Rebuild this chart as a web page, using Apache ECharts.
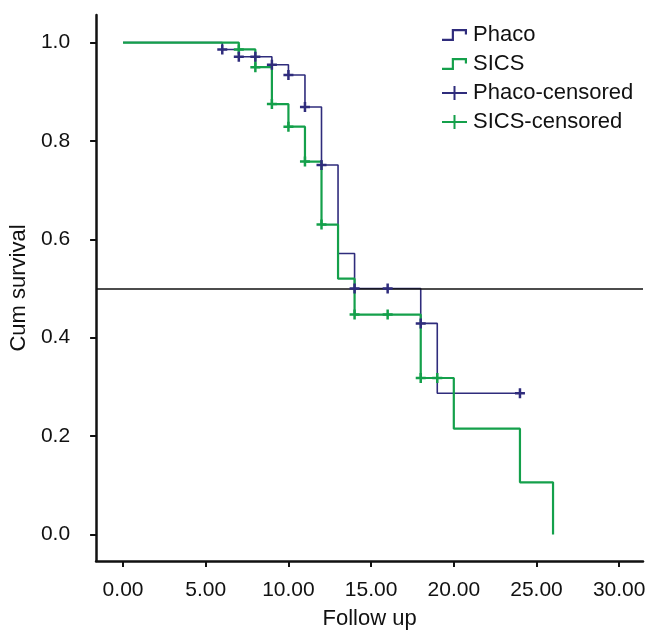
<!DOCTYPE html>
<html>
<head>
<meta charset="utf-8">
<script src="https://cdn.jsdelivr.net/npm/echarts@6/dist/echarts.min.js"></script>
<style>
  html, body { margin: 0; padding: 0; background: #fff; }
</style>
</head>
<body>
<div id="display" style="width:651px;height:635px;"></div>
<script>
// Kaplan-Meier steps: [time, cum survival]
var phacoSteps = [[0, 1.0], [6, 0.986], [7, 0.971], [9, 0.955], [10, 0.934], [11, 0.869],
    [12, 0.751], [13, 0.571], [14, 0.5], [18, 0.429], [19, 0.287], [24, 0.287]];
var sicsSteps = [[0, 1.0], [7, 0.986], [8, 0.95], [9, 0.875], [10, 0.829], [11, 0.758],
    [12, 0.63], [13, 0.52], [14, 0.447], [18, 0.318], [20, 0.215], [24, 0.106], [26, 0.0]];
// censored marks
var phacoCensored = [[6, 0.986], [7, 0.971], [8, 0.971], [9, 0.955], [10, 0.934], [11, 0.869],
    [12, 0.751], [14, 0.5], [16, 0.5], [18, 0.429], [24, 0.287]];
var sicsCensored = [[7, 0.986], [8, 0.95], [9, 0.875], [10, 0.829], [11, 0.758], [12, 0.63],
    [14, 0.447], [16, 0.447], [18, 0.318], [19, 0.318]];
var xTicks = [0, 5, 10, 15, 20, 25, 30];
var yTicks = [0, 0.2, 0.4, 0.6, 0.8, 1.0];
var medianLine = 0.5;

var navy = '#2f2c7c';
var green = '#14a04b';
var font = "'Liberation Sans', Arial, sans-serif";

var stepIcon = 'path://M0,9 L9,9 L9,0 L23,0 L23,5 L21,5 L21,2 L11,2 L11,11 L0,11 Z';
var plusIcon = 'path://M0,6 L11.5,6 L11.5,0 L13.5,0 L13.5,6 L25,6 L25,8 L13.5,8 L13.5,14 L11.5,14 L11.5,8 L0,8 Z';
var plusMark = 'path://M0,3 L3,3 L3,0 L5,0 L5,3 L8,3 L8,5 L5,5 L5,8 L3,8 L3,5 L0,5 Z';

var chartDom = document.getElementById('display');
var myChart = echarts.init(chartDom, null, { renderer: 'canvas' });
var option;
option = {
    animation: false,
    backgroundColor: '#fff',
    textStyle: { fontFamily: font },
    grid: { left: 95, right: 8, top: 15, bottom: 64 },
    legend: {
        orient: 'vertical',
        left: 437,
        top: 19,
        itemWidth: 25,
        itemHeight: 14,
        itemGap: 7,
        textStyle: { fontSize: 22, color: '#111', fontFamily: font, padding: [0, 0, 0, 1] },
        data: [
            { name: 'Phaco', icon: stepIcon },
            { name: 'SICS', icon: stepIcon },
            { name: 'Phaco-censored', icon: plusIcon },
            { name: 'SICS-censored', icon: plusIcon }
        ]
    },
    xAxis: {
        type: 'value',
        min: -1.63,
        max: 31.44,
        name: 'Follow up',
        nameLocation: 'middle',
        nameGap: 47,
        nameTextStyle: { fontSize: 22, color: '#111', fontFamily: font },
        splitLine: { show: false },
        axisLine: { show: true, onZero: false, lineStyle: { color: '#111', width: 2.5 } },
        axisTick: { show: true, length: 6, customValues: xTicks, lineStyle: { color: '#111', width: 2 } },
        axisLabel: {
            customValues: xTicks,
            margin: 19,
            fontSize: 21,
            color: '#111',
            formatter: function (v) { return v.toFixed(2); }
        }
    },
    yAxis: {
        type: 'value',
        min: -0.054,
        max: 1.056,
        name: 'Cum survival',
        nameLocation: 'middle',
        nameGap: 63,
        nameTextStyle: { fontSize: 22, color: '#111', fontFamily: font },
        splitLine: { show: false },
        axisLine: { show: true, onZero: false, lineStyle: { color: '#111', width: 2.5 } },
        axisTick: { show: true, length: 6, customValues: yTicks, lineStyle: { color: '#111', width: 2 } },
        axisLabel: {
            customValues: yTicks,
            margin: 26,
            fontSize: 21,
            color: '#111',
            formatter: function (v) { return v.toFixed(1); }
        }
    },
    series: [
        {
            name: 'Phaco',
            type: 'line',
            step: 'end',
            symbol: 'none',
            color: navy,
            lineStyle: { color: navy, width: 1.6 },
            data: phacoSteps,
            z: 2,
            markLine: {
                silent: true,
                symbol: 'none',
                label: { show: false },
                lineStyle: { color: '#111', width: 1.5, type: 'solid' },
                data: [{ yAxis: medianLine }]
            }
        },
        {
            name: 'SICS',
            type: 'line',
            step: 'end',
            symbol: 'none',
            color: green,
            lineStyle: { color: green, width: 2.2 },
            data: sicsSteps,
            z: 3
        },
        {
            name: 'Phaco-censored',
            type: 'scatter',
            symbol: plusMark,
            symbolSize: 10,
            color: navy,
            itemStyle: { color: navy, opacity: 1 },
            data: phacoCensored,
            z: 5
        },
        {
            name: 'SICS-censored',
            type: 'scatter',
            symbol: plusMark,
            symbolSize: 10,
            color: green,
            itemStyle: { color: green, opacity: 1 },
            data: sicsCensored,
            z: 4
        }
    ]
};

option && myChart.setOption(option);
</script>
</body>
</html>
